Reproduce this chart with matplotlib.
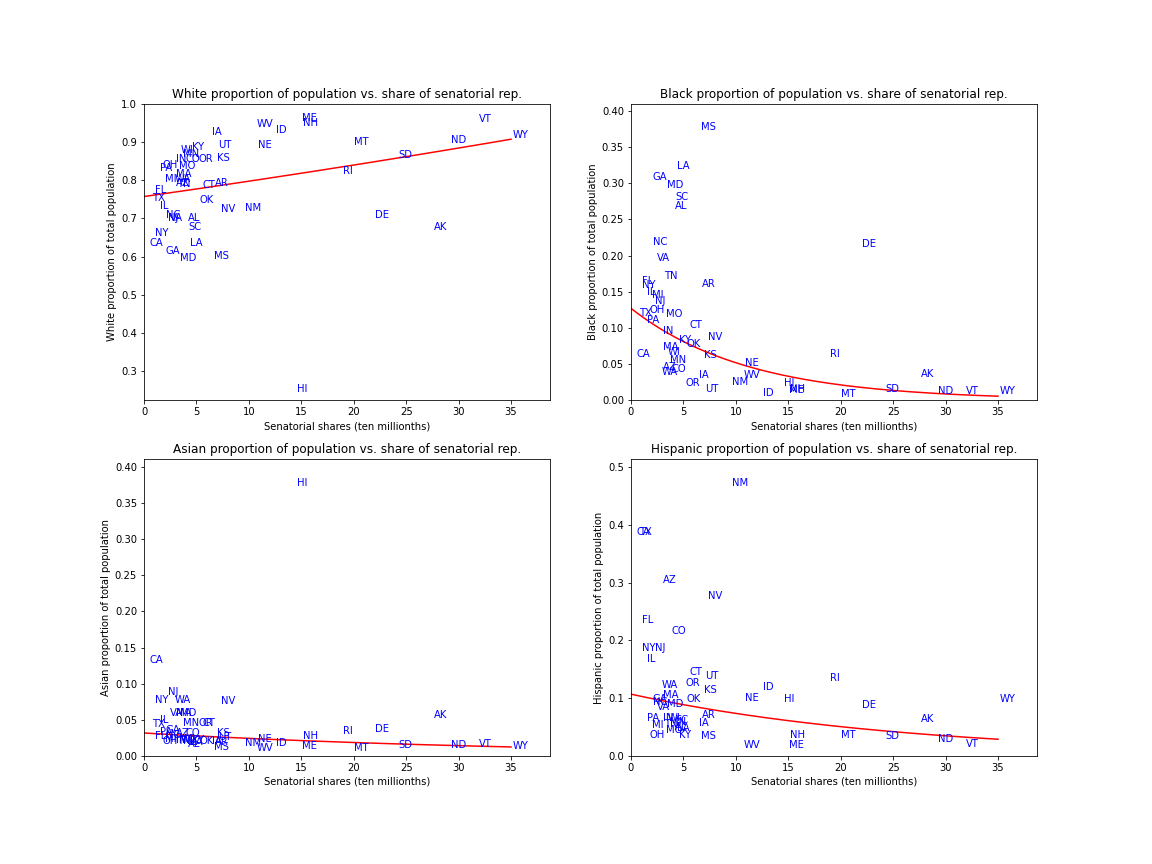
import numpy as np
import matplotlib
matplotlib.use("Agg")
import matplotlib.pyplot as plt

states = ['AL', 'AK', 'AZ', 'AR', 'CA', 'CO', 'CT', 'DE', 'FL', 'GA',
          'HI', 'ID', 'IL', 'IN', 'IA', 'KS', 'KY', 'LA', 'ME', 'MD',
          'MA', 'MI', 'MN', 'MS', 'MO', 'MT', 'NE', 'NV', 'NH', 'NJ',
          'NM', 'NY', 'NC', 'ND', 'OH', 'OK', 'OR', 'PA', 'RI', 'SC',
          'SD', 'TN', 'TX', 'UT', 'VT', 'VA', 'WA', 'WV', 'WI', 'WY']

# senatorial shares (ten millionths)
shares = [4.16, 27.67, 3.09, 6.81, 0.53, 3.91, 5.59, 22.05, 1.05, 2.04,
          14.55, 12.62, 1.55, 3.07, 6.53, 6.97, 4.58, 4.37, 15.06, 3.43,
          3.04, 2.03, 3.74, 6.72, 3.33, 20.04, 10.85, 7.34, 15.17, 2.27,
          9.61, 1.03, 2.07, 29.24, 1.73, 5.28, 5.17, 1.57, 19.02, 4.27,
          24.27, 3.12, 0.78, 7.10, 31.93, 2.47, 2.93, 10.78, 3.50, 35.20]

white = [0.693, 0.669, 0.785, 0.784, 0.628, 0.848, 0.780, 0.701, 0.767, 0.607,
         0.246, 0.924, 0.725, 0.848, 0.917, 0.851, 0.880, 0.628, 0.955, 0.587,
         0.807, 0.794, 0.861, 0.594, 0.828, 0.893, 0.883, 0.716, 0.942, 0.693,
         0.718, 0.654, 0.702, 0.898, 0.832, 0.739, 0.848, 0.824, 0.817, 0.670,
         0.859, 0.783, 0.745, 0.883, 0.952, 0.693, 0.795, 0.939, 0.872, 0.909]

black = [0.265, 0.032, 0.042, 0.156, 0.060, 0.039, 0.100, 0.212, 0.160, 0.305,
         0.020, 0.006, 0.145, 0.091, 0.030, 0.058, 0.079, 0.319, 0.010, 0.294,
         0.069, 0.141, 0.052, 0.373, 0.115, 0.005, 0.047, 0.083, 0.012, 0.133,
         0.021, 0.155, 0.215, 0.009, 0.121, 0.073, 0.019, 0.107, 0.060, 0.277,
         0.012, 0.167, 0.116, 0.012, 0.008, 0.193, 0.035, 0.031, 0.063, 0.008]

asian = [0.013, 0.052, 0.027, 0.015, 0.128, 0.028, 0.041, 0.033, 0.024, 0.032,
         0.373, 0.014, 0.046, 0.018, 0.017, 0.027, 0.018, 0.015, 0.010, 0.056,
         0.056, 0.020, 0.041, 0.008, 0.019, 0.007, 0.019, 0.072, 0.024, 0.084,
         0.014, 0.073, 0.025, 0.011, 0.017, 0.017, 0.041, 0.029, 0.031, 0.016,
         0.011, 0.016, 0.040, 0.022, 0.013, 0.056, 0.073, 0.007, 0.018, 0.009]

hispanic = [0.045, 0.058, 0.300, 0.065, 0.382, 0.211, 0.140, 0.083, 0.230, 0.093,
            0.093, 0.115, 0.162, 0.061, 0.052, 0.109, 0.031, 0.043, 0.014, 0.084,
            0.101, 0.048, 0.054, 0.029, 0.039, 0.031, 0.095, 0.271, 0.031, 0.181,
            0.468, 0.181, 0.089, 0.024, 0.032, 0.093, 0.121, 0.061, 0.129, 0.057,
            0.029, 0.050, 0.382, 0.133, 0.015, 0.080, 0.117, 0.013, 0.061, 0.093]

# fitted curve a*exp(b*x): value at x=0 and x=35
fit_ends = {
    'White': (0.757, 0.907),
    'Black': (0.127, 0.0055),
    'Asian': (0.0318, 0.0125),
    'Hispanic': (0.107, 0.029),
}

ylims = {
    'White': (0.224, 1.0),
    'Black': (0.0, 0.41),
    'Asian': (0.0, 0.41),
    'Hispanic': (0.0, 0.513),
}

panels = [('White', white), ('Black', black), ('Asian', asian), ('Hispanic', hispanic)]

fig = plt.figure(figsize=(16, 12), dpi=72)
fig.subplots_adjust(left=0.125, right=0.9, bottom=0.125, top=0.88, wspace=0.2, hspace=0.2)

xs = np.array(shares)
for i, (race, vals) in enumerate(panels):
    ax = fig.add_subplot(2, 2, i + 1)
    for s, x, y in zip(states, shares, vals):
        ax.text(x, y, s, color='blue', fontsize=10)
    y0, y35 = fit_ends[race]
    b = np.log(y35 / y0) / 35.0
    xx = np.linspace(0, 35, 200)
    ax.plot(xx, y0 * np.exp(b * xx), color='red')
    ax.set_xlim(0, 38.7)
    ax.set_ylim(*ylims[race])
    ax.set_title(f"{race} proportion of population vs. share of senatorial rep.", fontsize=12)
    ax.set_xlabel("Senatorial shares (ten millionths)")
    ax.set_ylabel(f"{race} proportion of total population")

fig.savefig("out.png", dpi=72)
